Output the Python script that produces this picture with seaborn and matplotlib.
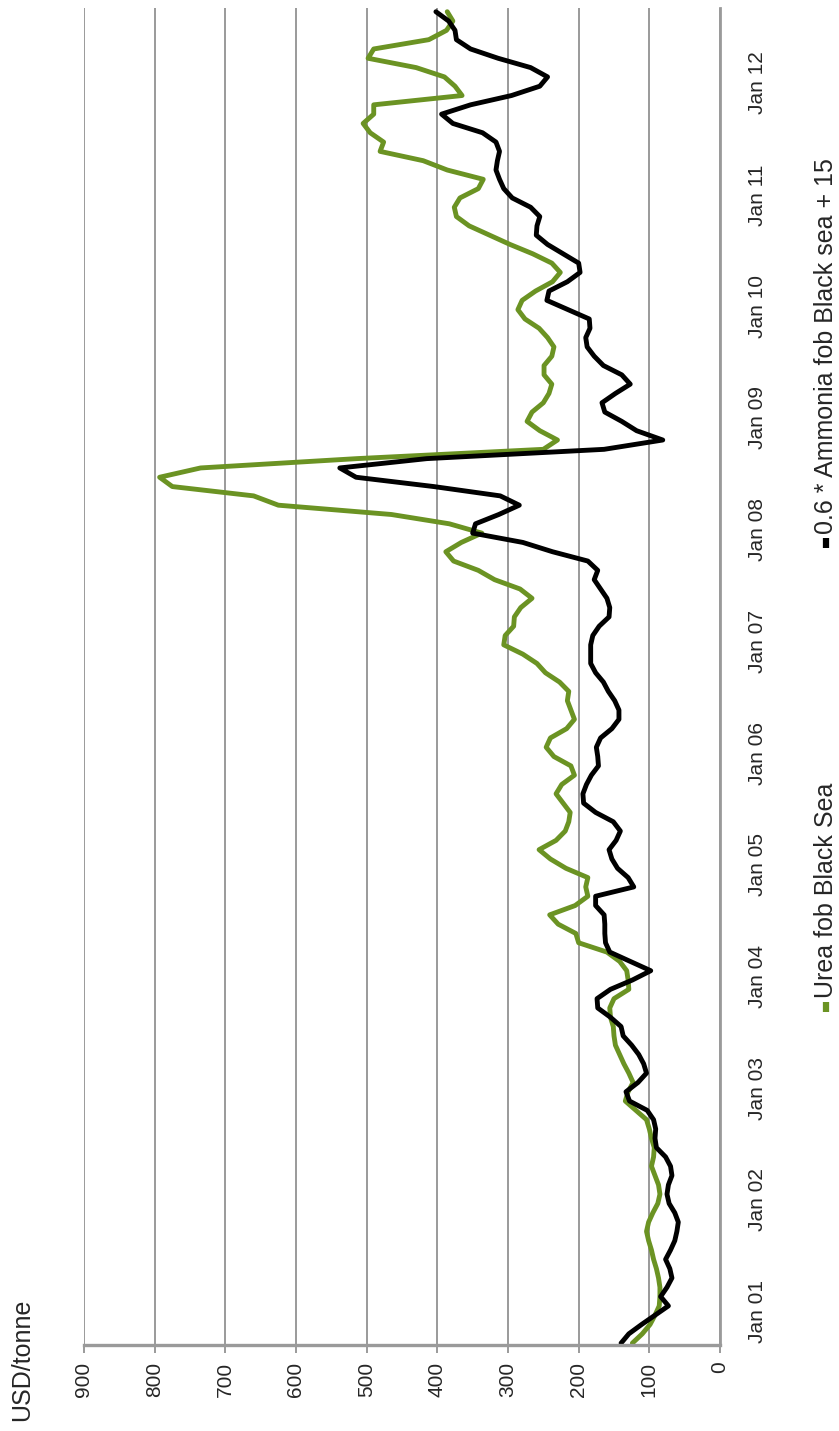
import numpy as np
import pandas as pd
import matplotlib
matplotlib.use("Agg")
import matplotlib.pyplot as plt
import seaborn as sns
from matplotlib.lines import Line2D

# Monthly prices, USD/tonne, Jan 2001 - Dec 2012
dates = pd.date_range("2001-01-01", periods=144, freq="MS")

urea_fob_black_sea = [
    124, 110, 99, 92, 86, 85, 85, 87, 90, 94, 97, 101,
    104, 101, 95, 88, 85, 87, 92, 97, 94, 93, 97, 100,
    104, 119, 134, 130, 123, 129, 136, 142, 148, 150, 151, 155,
    156, 150, 129, 130, 132, 142, 160, 200, 204, 229, 241, 205,
    187, 190, 187, 218, 240, 256, 232, 219, 214, 212, 222, 232,
    224, 206, 211, 235, 246, 240, 217, 206, 211, 216, 214, 227,
    247, 259, 279, 306, 304, 292, 291, 282, 266, 283, 319, 342,
    377, 388, 366, 337, 383, 465, 625, 660, 775, 793, 735, 514,
    250, 230, 255, 273, 266, 250, 242, 238, 249, 249, 238, 235,
    244, 256, 276, 286, 280, 261, 237, 226, 238, 265, 297, 326,
    355, 373, 376, 368, 342, 335, 386, 420, 481, 476, 495, 505,
    490, 490, 365, 375, 390, 430, 498, 490, 412, 387, 378, 386,
]

ammonia_scaled = [
    140, 129, 111, 92, 73, 84, 75, 68, 71, 77, 70, 64,
    61, 59, 64, 72, 75, 73, 68, 70, 77, 90, 92, 91,
    94, 103, 128, 133, 116, 104, 108, 115, 125, 137, 140, 155,
    173, 174, 155, 124, 98, 127, 156, 162, 163, 163, 164, 176,
    176, 122, 130, 145, 153, 157, 147, 141, 151, 176, 193, 194,
    189, 182, 172, 173, 175, 169, 153, 143, 143, 149, 158, 165,
    176, 183, 183, 183, 180, 171, 157, 156, 160, 169, 178, 173,
    187, 237, 279, 350, 346, 313, 284, 311, 405, 515, 538, 415,
    164, 81, 118, 139, 163, 167, 148, 127, 139, 165, 178, 188,
    190, 184, 185, 215, 245, 242, 216, 198, 200, 222, 244, 260,
    259, 255, 268, 294, 306, 312, 317, 315, 312, 317, 336, 378,
    394, 353, 295, 255, 244, 268, 314, 353, 373, 375, 384, 402,
]

series_names = ["Urea fob Black Sea", "0.6 * Ammonia fob Black sea + 15"]
series_colors = ["#6B9323", "#000000"]
value_ticks = list(range(0, 1000, 100))
value_label = "USD/tonne"

sns.set_theme(style="white")
plt.rcParams["font.family"] = ["Liberation Sans", "DejaVu Sans"]
FS_TICK = 15
FS_TEXT = 18
GRID = "#9A9A9A"

W, H = 839, 1431
fig = plt.figure(figsize=(W / 100, H / 100), dpi=100)
fig.patch.set_facecolor("white")


def fx(px):
    return px / W


def fy(py):
    return 1 - py / H


ax = fig.add_axes([fx(84), fy(1345), fx(720) - fx(84), fy(8) - fy(1345)])

month_idx = np.arange(len(dates))
df = pd.DataFrame({
    "month": month_idx,
    series_names[0]: urea_fob_black_sea,
    series_names[1]: ammonia_scaled,
})

for name, color in zip(series_names, series_colors):
    sns.lineplot(data=df, x=name, y="month", orient="y", estimator=None,
                 color=color, linewidth=3.5, ax=ax, legend=False)

# value axis runs right-to-left along the bottom, time runs upward
ax.set_xlim(900, 0)
ax.set_ylim(-0.2, 143.4)
ax.set_xlabel("")
ax.set_ylabel("")

ax.set_xticks(value_ticks)
ax.set_xticklabels([str(v) for v in value_ticks], rotation=90, fontsize=FS_TICK)
ax.xaxis.grid(True, color=GRID, linewidth=1.4)
ax.yaxis.grid(False)

year_pos = month_idx[dates.month == 1]
year_labels = [d.strftime("Jan %y") for d in dates[dates.month == 1]]
ax.yaxis.tick_right()
ax.set_yticks(year_pos)
ax.set_yticklabels(year_labels, rotation=90, va="bottom", fontsize=FS_TICK)

ax.tick_params(axis="x", direction="out", length=6, width=1.4, color=GRID,
               pad=6, bottom=True)
ax.tick_params(axis="y", length=0, pad=20)

for side in ["top", "left"]:
    ax.spines[side].set_visible(False)
ax.spines["bottom"].set_color(GRID)
ax.spines["bottom"].set_linewidth(2.4)
ax.spines["right"].set_color(GRID)
ax.spines["right"].set_linewidth(2.0)

# value axis title
fig.text(fx(22), fy(1421), value_label, rotation=90, ha="center", va="bottom",
         fontsize=FS_TEXT)

# legend entries along the right edge, each a short line sample and a label
legend_rows = [(1012, series_names[0], series_colors[0]),
               (548, series_names[1], series_colors[1])]
for y0, name, color in legend_rows:
    fig.add_artist(Line2D([fx(826), fx(826)], [fy(y0), fy(y0 - 10)],
                          transform=fig.transFigure, color=color,
                          linewidth=4.5, solid_capstyle="butt"))
    fig.text(fx(826), fy(y0 - 14), name, rotation=90, ha="center",
             va="bottom", fontsize=FS_TEXT)

fig.savefig("out.png", dpi=100, facecolor="white")
